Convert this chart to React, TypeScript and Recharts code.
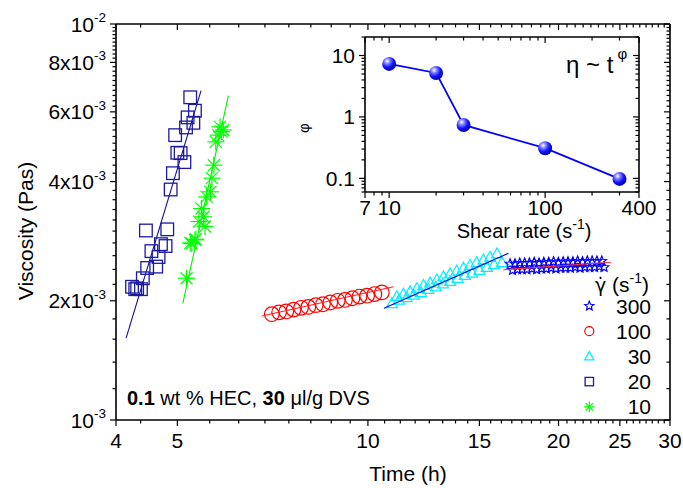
import React from 'react';
import { ScatterChart, Scatter, XAxis, YAxis, Legend, Customized } from 'recharts';

const FONT = '"Liberation Sans", Arial, Helvetica, sans-serif';
const W = 683;
const H = 488;

// ---------------- main plot data: time (h), viscosity (10^-3 Pa s) ----------------
const time20 = [4.24, 4.29, 4.32, 4.38, 4.41, 4.46, 4.48, 4.55, 4.63, 4.67, 4.71, 4.79, 4.82, 4.88, 4.92, 4.96, 5.0, 5.06, 5.13, 5.16, 5.19, 5.24, 5.3, 5.33];
const visc20 = [2.17, 2.14, 2.15, 2.14, 2.28, 3.01, 2.42, 2.67, 2.44, 2.58, 2.78, 2.75, 3.03, 3.82, 4.2, 5.24, 4.73, 4.72, 4.48, 5.48, 5.81, 6.53, 5.63, 6.04];

const time10 = [5.17, 5.24, 5.27, 5.33, 5.35, 5.41, 5.46, 5.5, 5.53, 5.56, 5.64, 5.67, 5.71, 5.75, 5.8, 5.84, 5.87, 5.91];
const visc10 = [2.28, 2.8, 2.79, 2.85, 2.86, 3.17, 3.42, 3.26, 3.08, 3.66, 3.77, 4.08, 4.4, 5.04, 5.24, 5.5, 5.35, 5.4];

const time100 = [7.05, 7.24, 7.43, 7.63, 7.84, 8.05, 8.27, 8.49, 8.72, 8.96, 9.2, 9.45, 9.7, 9.97, 10.24, 10.52];
const visc100 = [1.85, 1.87, 1.88, 1.9, 1.92, 1.93, 1.95, 1.96, 1.98, 2.0, 2.01, 2.03, 2.05, 2.06, 2.08, 2.1];

const time30 = [10.91, 11.11, 11.2, 11.38, 11.51, 11.66, 11.82, 11.95, 12.13, 12.24, 12.46, 12.54, 12.8, 12.85, 13.14, 13.16, 13.48, 13.49, 13.81, 13.86, 14.15, 14.23, 14.5, 14.61, 14.85, 15.0, 15.22, 15.41, 15.59, 15.82, 15.99, 16.28];
const visc30 = [1.97, 2.05, 2.01, 2.08, 2.04, 2.11, 2.07, 2.15, 2.1, 2.19, 2.14, 2.22, 2.17, 2.26, 2.21, 2.3, 2.34, 2.24, 2.38, 2.28, 2.42, 2.32, 2.46, 2.35, 2.5, 2.39, 2.54, 2.43, 2.58, 2.47, 2.63, 2.5];

const time300 = [16.77, 16.92, 17.07, 17.22, 17.37, 17.52, 17.68, 17.83, 17.99, 18.15, 18.31, 18.47, 18.63, 18.8, 18.96, 19.13, 19.3, 19.47, 19.64, 19.81, 19.99, 20.16, 20.34, 20.52, 20.7, 20.88, 21.07, 21.25, 21.44, 21.63, 21.82, 22.01, 22.21, 22.4, 22.6, 22.8, 23.0, 23.2, 23.41, 23.6];
const visc300 = [2.48, 2.39, 2.48, 2.4, 2.49, 2.4, 2.49, 2.4, 2.49, 2.41, 2.5, 2.4, 2.49, 2.41, 2.5, 2.41, 2.5, 2.42, 2.51, 2.41, 2.5, 2.42, 2.51, 2.42, 2.51, 2.42, 2.51, 2.43, 2.52, 2.42, 2.51, 2.43, 2.52, 2.43, 2.52, 2.43, 2.52, 2.44, 2.52, 2.43];

// power-law fit lines (end points)
const fitTime20 = [4.15, 5.45];
const fitVisc20 = [1.61, 6.79];
const fitTime10 = [5.1, 6.02];
const fitVisc10 = [1.97, 6.59];
const fitTime100 = [6.8, 10.97];
const fitVisc100 = [1.83, 2.17];
const fitTime30 = [10.6, 16.67];
const fitVisc30 = [1.915, 2.636];
const fitTime300 = [16.36, 24.21];
const fitVisc300 = [2.396, 2.502];

// ---------------- inset data ----------------
const shearRate = [10, 20, 30, 100, 300];
const phiExponent = [7.3, 5.2, 0.74, 0.31, 0.098];

// ---------------- ticks ----------------
const xTickLabelsMain = [4, 5, 10, 15, 20, 25, 30];
const yTickLabelsMain = [0.001, 0.002, 0.004, 0.006, 0.008, 0.01];
const xTickLabelsInset = [7, 10, 100, 400];
const yTickLabelsInset = [0.1, 1, 10];

const mainXTicks = [4, ...Array.from({ length: 42 }, (_, i) => (i + 7) * 0.625)];
const mainYTicks = Array.from({ length: 46 }, (_, i) => (i + 5) / 5000);
const insetXTicks = [7, 8, 9, 10, 20, 30, 40, 50, 60, 70, 80, 90, 100, 200, 300, 400];
const insetYTicks = [0.06, 0.07, 0.08, 0.09, 0.1, 0.2, 0.3, 0.4, 0.5, 0.6, 0.7, 0.8, 0.9, 1, 2, 3, 4, 5, 6, 7, 8, 9, 10, 20];

const legendOrder = ['300', '100', '30', '20', '10'];

const C20 = '#1a1aa0';
const C10 = '#00ff00';
const C100 = '#ff0000';
const C30 = '#00eeff';
const C300 = '#0000ff';

const rows = (t: number[], v: number[]) => t.map((x, i) => ({ t: x, v: v[i] * 1e-3 }));
const insetRows = shearRate.map((s, i) => ({ s, p: phiExponent[i] }));

const near = (list: number[], v: number) => list.some((l) => Math.abs(l - v) <= Math.abs(l) * 1e-6);

// ---------------- markers ----------------
type MarkerKind = 'square' | 'asterisk' | 'circle' | 'triangle' | 'star';

function Marker({ kind, cx, cy, size, color }: { kind: MarkerKind; cx: number; cy: number; size: number; color: string }) {
  if (cx == null || cy == null) return <g />;
  const sw = 1.2;
  if (kind === 'square') {
    return <rect x={cx - size} y={cy - size} width={2 * size} height={2 * size} fill="none" stroke={color} strokeWidth={1.3} />;
  }
  if (kind === 'circle') {
    return <circle cx={cx} cy={cy} r={size} fill="none" stroke={color} strokeWidth={sw} />;
  }
  if (kind === 'triangle') {
    const h = size * 1.8;
    return (
      <polygon
        points={`${cx - size},${cy + h * 0.42} ${cx + size},${cy + h * 0.42} ${cx},${cy - h * 0.58}`}
        fill="none"
        stroke={color}
        strokeWidth={sw}
      />
    );
  }
  if (kind === 'star') {
    const pts: string[] = [];
    for (let k = 0; k < 10; k++) {
      const r = k % 2 === 0 ? size : size * 0.45;
      const a = -Math.PI / 2 + (k * Math.PI) / 5;
      pts.push(`${cx + r * Math.cos(a)},${cy + r * Math.sin(a)}`);
    }
    return <polygon points={pts.join(' ')} fill="none" stroke={color} strokeWidth={sw} />;
  }
  // asterisk
  const d = size * 0.7071;
  return (
    <g stroke={color} strokeWidth={sw}>
      <line x1={cx - size} y1={cy} x2={cx + size} y2={cy} />
      <line x1={cx} y1={cy - size} x2={cx} y2={cy + size} />
      <line x1={cx - d} y1={cy - d} x2={cx + d} y2={cy + d} />
      <line x1={cx - d} y1={cy + d} x2={cx + d} y2={cy - d} />
    </g>
  );
}

const shapeOf = (kind: MarkerKind, size: number, color: string) => (p: any) =>
  <Marker kind={kind} cx={p.cx} cy={p.cy} size={size} color={color} />;

const noShape = () => <g />;

const legendMarkers: Record<string, { kind: MarkerKind; size: number; color: string }> = {
  '300': { kind: 'star', size: 4.8, color: C300 },
  '100': { kind: 'circle', size: 4.5, color: C100 },
  '30': { kind: 'triangle', size: 4.6, color: C30 },
  '20': { kind: 'square', size: 4.2, color: C20 },
  '10': { kind: 'asterisk', size: 5.2, color: C10 },
};

// ---------------- ticks ----------------
const TICK_W = 1.2;

const sci = (v: number) => {
  const e = Math.floor(Math.log10(v) + 1e-9);
  const m = Math.round(v / Math.pow(10, e));
  return { mant: m === 1 ? '10' : `${m}x10`, exp: `${e}` };
};

const bottomTick = (labels: number[], labelDy: number) => (p: any) => {
  const v = p.payload.value;
  const major = near(labels, v);
  return (
    <g>
      <line x1={p.x} x2={p.x} y1={p.y} y2={p.y + (major ? 6 : 3.5)} stroke="#000" strokeWidth={TICK_W} />
      {major && (
        <text x={p.x} y={p.y + labelDy} textAnchor="middle" fontSize={21} fontFamily={FONT} fill="#000">
          {String(v)}
        </text>
      )}
    </g>
  );
};

const topTick = (labels: number[]) => (p: any) => {
  const major = near(labels, p.payload.value);
  return <line x1={p.x} x2={p.x} y1={p.y} y2={p.y + (major ? 6 : 3.5)} stroke="#000" strokeWidth={TICK_W} />;
};

const rightTick = (labels: number[]) => (p: any) => {
  const major = near(labels, p.payload.value);
  return <line x1={p.x} x2={p.x - (major ? 6 : 3.5)} y1={p.y} y2={p.y} stroke="#000" strokeWidth={TICK_W} />;
};

const leftTickMain = (p: any) => {
  const v = p.payload.value;
  const major = near(yTickLabelsMain, v);
  const s = sci(v);
  return (
    <g>
      <line x1={p.x} x2={p.x - (major ? 6 : 3.5)} y1={p.y} y2={p.y} stroke="#000" strokeWidth={TICK_W} />
      {major && (
        <text x={p.x - 10} y={p.y + 7.5} textAnchor="end" fontSize={21} fontFamily={FONT} fill="#000">
          {s.mant}
          <tspan dy={-9.5} fontSize={13.5}>
            {s.exp}
          </tspan>
        </text>
      )}
    </g>
  );
};

const leftTickInset = (p: any) => {
  const v = p.payload.value;
  const major = near(yTickLabelsInset, v);
  return (
    <g>
      <line x1={p.x} x2={p.x - (major ? 6 : 3.5)} y1={p.y} y2={p.y} stroke="#000" strokeWidth={TICK_W} />
      {major && (
        <text x={p.x - 10} y={p.y + 7.5} textAnchor="end" fontSize={21} fontFamily={FONT} fill="#000">
          {String(v)}
        </text>
      )}
    </g>
  );
};

// ---------------- titles ----------------
const mainXTitle = (props: any) => {
  const vb = props.viewBox;
  return (
    <text x={vb.x + vb.width / 2 + 15} y={vb.y + 61} textAnchor="middle" fontSize={21} fontFamily={FONT} fill="#000">
      Time (h)
    </text>
  );
};

const mainYTitle = (props: any) => {
  const vb = props.viewBox;
  const cx = vb.x + 33;
  const cy = vb.y + vb.height / 2 + 9;
  return (
    <text x={cx} y={cy} transform={`rotate(-90 ${cx} ${cy})`} textAnchor="middle" fontSize={21} fontFamily={FONT} fill="#000">
      Viscosity (Pas)
    </text>
  );
};

const insetXTitle = (props: any) => {
  const vb = props.viewBox;
  return (
    <text x={vb.x + vb.width / 2 + 22} y={vb.y + 46} textAnchor="middle" fontSize={20} fontFamily={FONT} fill="#000">
      Shear rate (s
      <tspan dy={-9} fontSize={14}>
        -1
      </tspan>
      <tspan dy={9}>)</tspan>
    </text>
  );
};

const insetYTitle = (props: any) => {
  const vb = props.viewBox;
  const cx = vb.x - 2;
  const cy = 128;
  return (
    <text x={cx} y={cy} transform={`rotate(-90 ${cx} ${cy})`} textAnchor="middle" dominantBaseline="central" fontSize={15} fontFamily={FONT} fill="#000">
      φ
    </text>
  );
};

function SampleNote() {
  return (
    <text x={127} y={405} fontSize={20} fontFamily={FONT} fill="#000">
      <tspan fontWeight="bold">0.1</tspan>
      {' wt % HEC, '}
      <tspan fontWeight="bold">30</tspan>
      {' μl/g DVS'}
    </text>
  );
}

function PowerLawNote() {
  return (
    <text x={566} y={73} fontSize={24} fontFamily={FONT} fill="#000">
      {'η ~ t'}
      <tspan dx={4} dy={-14} fontSize={15}>
        φ
      </tspan>
    </text>
  );
}

function LegendContent(props: any) {
  const items = (props.payload || [])
    .map((e: any) => String(e.value).trim())
    .filter((n: string) => legendOrder.includes(n))
    .sort((a: string, b: string) => legendOrder.indexOf(a) - legendOrder.indexOf(b));
  return (
    <svg width={110} height={155} style={{ overflow: 'visible', display: 'block' }}>
      <text x={25} y={26.7} fontSize={21} fontFamily={FONT} fill="#000">
        <tspan fontFamily='"DejaVu Sans", sans-serif' fontSize={19}>
          {'γ̇'}
        </tspan>
        {' (s'}
        <tspan dy={-9} fontSize={14}>
          -1
        </tspan>
        <tspan dy={9}>)</tspan>
      </text>
      {items.map((name: string, i: number) => {
        const m = legendMarkers[name];
        const cy = 41 + i * 25.2;
        return (
          <g key={name}>
            <Marker kind={m.kind} cx={19.3} cy={cy} size={m.size} color={m.color} />
            <text x={81} y={cy + 7.5} textAnchor="end" fontSize={21} fontFamily={FONT} fill="#000">
              {name}
            </text>
          </g>
        );
      })}
    </svg>
  );
}

function Ball(p: any) {
  if (p.cx == null) return <g />;
  return (
    <g>
      <defs>
        <radialGradient id="ballGrad" cx="0.36" cy="0.3" r="0.72">
          <stop offset="0" stopColor="#ffffff" />
          <stop offset="0.28" stopColor="#8080ff" />
          <stop offset="0.62" stopColor="#1414ff" />
          <stop offset="1" stopColor="#0000a8" />
        </radialGradient>
      </defs>
      <circle cx={p.cx} cy={p.cy} r={7} fill="url(#ballGrad)" />
    </g>
  );
}

const axisLine = { stroke: '#000', strokeWidth: 1.6 };

export default function App() {
  return (
    <div style={{ position: 'absolute', left: 0, top: 0, width: W, height: H, background: '#fff' }}>
      <div style={{ position: 'absolute', left: 0, top: 0 }}>
        <ScatterChart width={W} height={H} margin={{ top: 23, right: 12, bottom: 0, left: 0 }}>
          <XAxis
            dataKey="t"
            type="number"
            scale="log"
            domain={[4, 30]}
            allowDataOverflow
            ticks={mainXTicks}
            interval={0}
            height={68}
            tickSize={0}
            tickMargin={0}
            tickLine={false}
            axisLine={axisLine}
            tick={bottomTick(xTickLabelsMain, 28)}
            label={mainXTitle}
          />
          <XAxis
            xAxisId="top"
            orientation="top"
            dataKey="t"
            type="number"
            scale="log"
            domain={[4, 30]}
            allowDataOverflow
            ticks={mainXTicks}
            interval={0}
            height={1}
            tickSize={0}
            tickMargin={0}
            tickLine={false}
            axisLine={axisLine}
            tick={topTick(xTickLabelsMain)}
          />
          <YAxis
            dataKey="v"
            type="number"
            scale="log"
            domain={[0.001, 0.01]}
            allowDataOverflow
            ticks={mainYTicks}
            interval={0}
            width={116}
            tickSize={0}
            tickMargin={0}
            tickLine={false}
            axisLine={axisLine}
            tick={leftTickMain}
            label={mainYTitle}
          />
          <YAxis
            yAxisId="right"
            orientation="right"
            dataKey="v"
            type="number"
            scale="log"
            domain={[0.001, 0.01]}
            allowDataOverflow
            ticks={mainYTicks}
            interval={0}
            width={1}
            tickSize={0}
            tickMargin={0}
            tickLine={false}
            axisLine={axisLine}
            tick={rightTick(yTickLabelsMain)}
          />
          <Scatter name="fit20" legendType="none" data={rows(fitTime20, fitVisc20)} line={{ stroke: '#10109a', strokeWidth: 1.1 }} shape={noShape} isAnimationActive={false} />
          <Scatter name="20" data={rows(time20, visc20)} shape={shapeOf('square', 6.3, C20)} isAnimationActive={false} />
          <Scatter name="fit10" legendType="none" data={rows(fitTime10, fitVisc10)} line={{ stroke: '#00ee00', strokeWidth: 1.1 }} shape={noShape} isAnimationActive={false} />
          <Scatter name="10" data={rows(time10, visc10)} shape={shapeOf('asterisk', 8.5, C10)} isAnimationActive={false} />
          <Scatter name="100" data={rows(time100, visc100)} shape={shapeOf('circle', 7.3, C100)} isAnimationActive={false} />
          <Scatter name="fit100" legendType="none" data={rows(fitTime100, fitVisc100)} line={{ stroke: '#ff2020', strokeWidth: 1.1 }} shape={noShape} isAnimationActive={false} />
          <Scatter name="30" data={rows(time30, visc30)} shape={shapeOf('triangle', 5.5, C30)} isAnimationActive={false} />
          <Scatter name="fit30" legendType="none" data={rows(fitTime30, fitVisc30)} line={{ stroke: '#0000dd', strokeWidth: 1.1 }} shape={noShape} isAnimationActive={false} />
          <Scatter name="300" data={rows(time300, visc300)} shape={shapeOf('star', 5, C300)} isAnimationActive={false} />
          <Scatter name="fit300" legendType="none" data={rows(fitTime300, fitVisc300)} line={{ stroke: '#ff3030', strokeWidth: 1.1 }} shape={noShape} isAnimationActive={false} />
          <Legend
            layout="vertical"
            align="center"
            verticalAlign="middle"
            width={110}
            height={155}
            wrapperStyle={{ left: 570, top: 265, width: 110, height: 155 }}
            content={LegendContent}
          />
          <Customized component={SampleNote} />
        </ScatterChart>
      </div>
      <div style={{ position: 'absolute', left: 0, top: 0 }}>
        <ScatterChart width={W} height={H} margin={{ top: 36, right: 43, bottom: 246, left: 305 }}>
          <XAxis
            dataKey="s"
            type="number"
            scale="log"
            domain={[7, 400]}
            allowDataOverflow
            ticks={insetXTicks}
            interval={0}
            height={50}
            tickSize={0}
            tickMargin={0}
            tickLine={false}
            axisLine={axisLine}
            tick={bottomTick(xTickLabelsInset, 23)}
            label={insetXTitle}
          />
          <XAxis
            xAxisId="top"
            orientation="top"
            dataKey="s"
            type="number"
            scale="log"
            domain={[7, 400]}
            allowDataOverflow
            ticks={insetXTicks}
            interval={0}
            height={1}
            tickSize={0}
            tickMargin={0}
            tickLine={false}
            axisLine={axisLine}
            tick={topTick(xTickLabelsInset)}
          />
          <YAxis
            dataKey="p"
            type="number"
            scale="log"
            domain={[0.06, 20]}
            allowDataOverflow
            ticks={insetYTicks}
            interval={0}
            width={60}
            tickSize={0}
            tickMargin={0}
            tickLine={false}
            axisLine={axisLine}
            tick={leftTickInset}
            label={insetYTitle}
          />
          <YAxis
            yAxisId="right"
            orientation="right"
            dataKey="p"
            type="number"
            scale="log"
            domain={[0.06, 20]}
            allowDataOverflow
            ticks={insetYTicks}
            interval={0}
            width={1}
            tickSize={0}
            tickMargin={0}
            tickLine={false}
            axisLine={axisLine}
            tick={rightTick(yTickLabelsInset)}
          />
          <Scatter name="phi" data={insetRows} line={{ stroke: '#0000ff', strokeWidth: 1.8 }} shape={Ball} isAnimationActive={false} />
          <Customized component={PowerLawNote} />
        </ScatterChart>
      </div>
    </div>
  );
}
